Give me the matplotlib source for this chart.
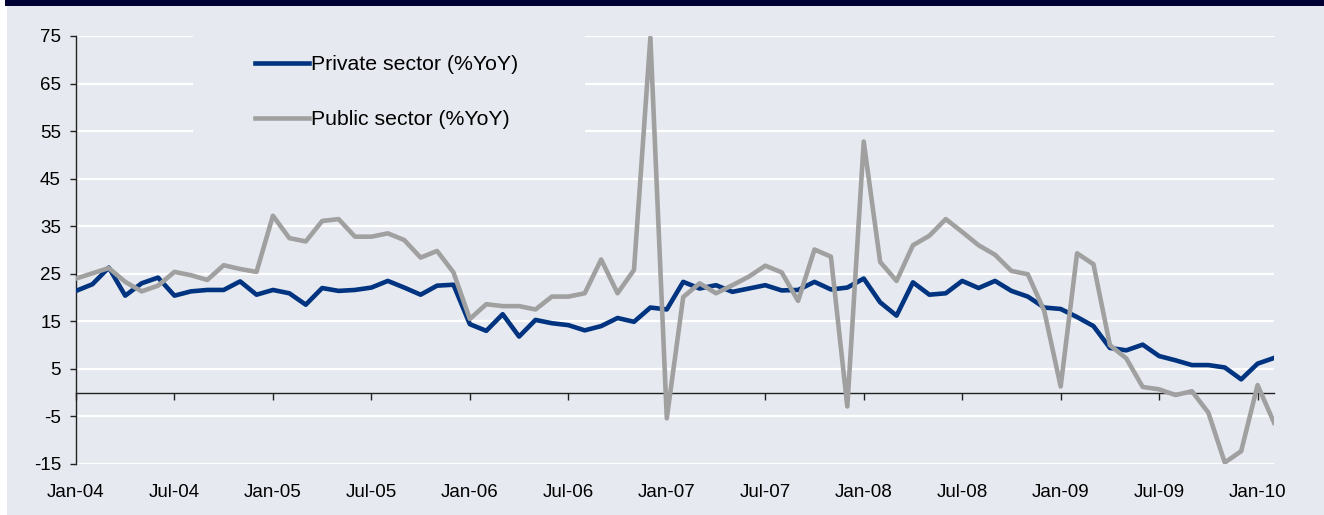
import matplotlib
matplotlib.use("Agg")
import matplotlib.pyplot as plt
from matplotlib.patches import Rectangle

# ---- data ----
tick_labels = ["Jan-04", "Jul-04", "Jan-05", "Jul-05", "Jan-06", "Jul-06", "Jan-07",
               "Jul-07", "Jan-08", "Jul-08", "Jan-09", "Jul-09", "Jan-10"]
private = [21.4, 22.8, 26.3, 20.4, 23.0, 24.2, 20.4, 21.3, 21.6, 21.6, 23.4, 20.6,
           21.6, 20.9, 18.5, 22.0, 21.4, 21.6, 22.1, 23.5, 22.1, 20.6, 22.5, 22.7,
           14.4, 13.0, 16.5, 11.8, 15.3, 14.6, 14.2, 13.1, 14.0, 15.7, 14.9, 17.9,
           17.5, 23.3, 21.9, 22.6, 21.2, 21.9, 22.6, 21.5, 21.6, 23.3, 21.7, 22.1,
           24.0, 19.0, 16.2, 23.2, 20.6, 20.9, 23.5, 22.0, 23.5, 21.4, 20.2, 17.9,
           17.6, 15.9, 14.0, 9.4, 8.9, 10.1, 7.7, 6.8, 5.8, 5.8, 5.3, 2.8, 6.1, 7.3]
public = [24.0, 25.1, 26.2, 23.3, 21.3, 22.5, 25.4, 24.7, 23.7, 26.8, 26.0, 25.4,
          37.2, 32.5, 31.8, 36.1, 36.5, 32.8, 32.8, 33.5, 32.1, 28.4, 29.8, 25.3,
          15.5, 18.6, 18.2, 18.2, 17.5, 20.2, 20.2, 20.9, 28.0, 20.9, 25.8, 74.7,
          -5.4, 20.1, 23.0, 20.9, 22.6, 24.4, 26.7, 25.3, 19.3, 30.1, 28.6, -2.9,
          52.8, 27.5, 23.5, 31.0, 33.0, 36.5, 33.8, 31.0, 29.0, 25.6, 24.9, 17.2,
          1.3, 29.3, 27.0, 10.0, 7.2, 1.2, 0.7, -0.5, 0.3, -4.2, -14.7, -12.3, 1.6, -6.3]
series_names = ["Private sector (%YoY)", "Public sector (%YoY)"]
yticks = [-15, -5, 5, 15, 25, 35, 45, 55, 65, 75]

# ---- style ----
BG = "#E6E9EF"
NAVY = "#000033"
BLUE = "#003380"
GREY = "#A0A0A0"
plt.rcParams["font.family"] = ["Liberation Sans", "DejaVu Sans"]

W, H = 1324, 515
fig = plt.figure(figsize=(W / 100, H / 100), dpi=100)
fig.patch.set_facecolor("white")
fig.patches.append(Rectangle((7 / W, 0), 1 - 7 / W, 1 - 6 / H, transform=fig.transFigure,
                             facecolor=BG, edgecolor="none", zorder=-2))
fig.patches.append(Rectangle((5 / W, 1 - 6 / H), 1 - 5 / W, 6 / H, transform=fig.transFigure,
                             facecolor=NAVY, edgecolor="none", zorder=-2))

left, right, top, bottom = 76, 1274, 36, 464
ax = fig.add_axes([left / W, 1 - bottom / H, (right - left) / W, (bottom - top) / H])
ax.set_zorder(1)
ax.set_facecolor(BG)
ax.set_axisbelow(True)

x = list(range(len(private)))
ax.plot(x, private, color=BLUE, lw=3.3, solid_joinstyle="round", zorder=3, label=series_names[0])
ax.plot(x, public, color=GREY, lw=3.3, solid_joinstyle="round", zorder=4, label=series_names[1])

ax.set_xlim(0, len(private) - 1)
ax.set_ylim(-15, 75)
ax.set_yticks(yticks)
ax.set_yticklabels([str(v) for v in yticks])
ax.set_xticks(range(0, 6 * len(tick_labels), 6))
ax.set_xticklabels(tick_labels)

ax.grid(axis="y", color="white", lw=1.6)
ax.grid(axis="x", visible=False)

for s in ["top", "right"]:
    ax.spines[s].set_visible(False)
ax.spines["left"].set_color("#222222")
ax.spines["left"].set_linewidth(1.0)
ax.spines["bottom"].set_position(("data", 0))
ax.spines["bottom"].set_color("#222222")
ax.spines["bottom"].set_linewidth(1.0)
ax.spines["bottom"].set_zorder(2.5)

ax.tick_params(axis="y", direction="out", length=4.3, width=1, color="#222222",
               pad=6.5, labelsize=13.5)
ax.tick_params(axis="x", direction="out", length=5, width=1, color="#222222",
               pad=61, labelsize=13.5)

# cover gridlines behind legend
ax.add_patch(Rectangle(((193 - left) / (right - left), (bottom - 150) / (bottom - top)),
                       392 / (right - left), 0.3, transform=ax.transAxes,
                       facecolor=BG, edgecolor="none", zorder=1, clip_on=False))

leg = ax.legend(loc="upper left", bbox_to_anchor=(255 / W, 1 - 55 / H),
                bbox_transform=fig.transFigure, frameon=False, fontsize=15.3,
                handlelength=2.55, handletextpad=0.1, labelspacing=1.7,
                borderpad=0, borderaxespad=0)

fig.savefig("out.png", dpi=100, facecolor=fig.get_facecolor())
